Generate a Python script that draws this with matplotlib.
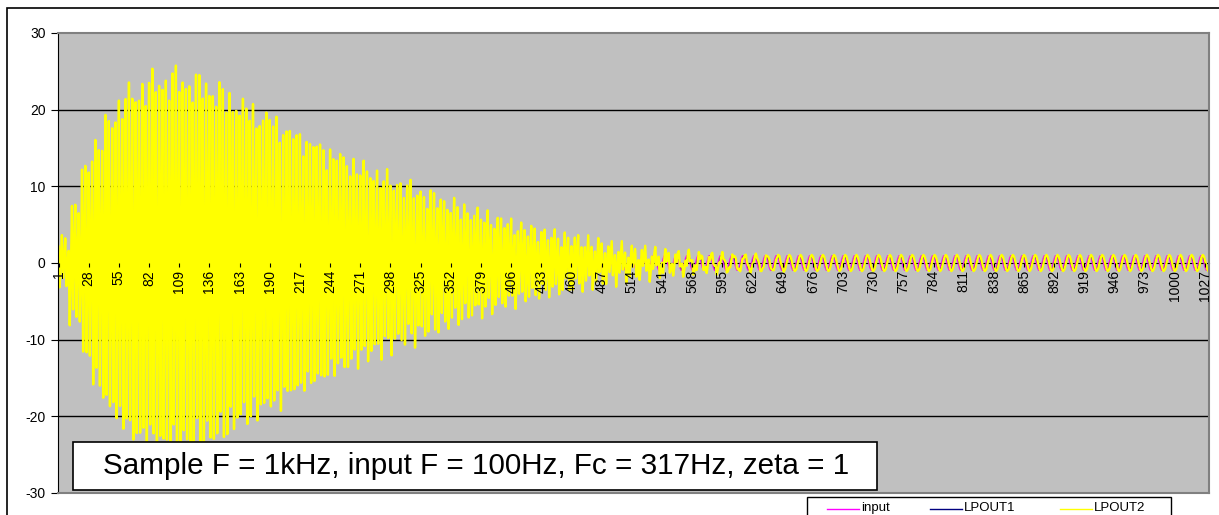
import matplotlib
matplotlib.use("Agg")
import matplotlib.pyplot as plt
from matplotlib.patches import Rectangle
from matplotlib.lines import Line2D
import numpy as np

plt.rcParams['font.family'] = ['Liberation Sans', 'DejaVu Sans']
plt.rcParams['axes.unicode_minus'] = False

# sample count and category labels (every 27th sample)
n_samples = 1030
tick_step = 27

# one 100 Hz period at 1 kHz sampling (10 samples)
input_cycle = [0.0, 0.588, 0.951, 0.951, 0.588, 0.0, -0.588, -0.951, -0.951, -0.588]
lpout1_cycle = [-0.56, 0.0, 0.56, 0.90, 0.90, 0.56, 0.0, -0.56, -0.90, -0.90]
lpout2_cycle = [-0.85, -0.32, 0.32, 0.85, 1.05, 0.85, 0.32, -0.32, -0.85, -1.05]

# ringing shape of LPOUT2 (normalised, roughly three samples per swing)
ring_pattern = [1.0, -0.95, 0.1, 0.93, -1.0, -0.15, 0.97, -0.9, 0.2, 0.88, -0.97,
                -0.1, 0.95, -0.92, 0.05, 0.9, -0.98, 0.15, 0.98, -0.88, -0.05]

# peak ringing amplitude of LPOUT2 for each 10-sample block
ring_peak = [3.0, 7.5, 12.5, 16.0, 19.0, 21.2, 22.7, 23.7, 24.3, 24.7,
             24.9, 24.6, 24.2, 23.8, 23.0, 22.0, 21.0, 20.3, 19.7, 18.8,
             17.9, 17.0, 16.3, 15.5, 14.7, 13.9, 13.2, 12.5, 11.8, 11.2,
             10.6, 10.0, 9.4, 8.8, 8.2, 7.6, 7.0, 6.5, 6.0, 5.6,
             5.1, 4.7, 4.3, 3.9, 3.6, 3.3, 3.0, 2.7, 2.4, 2.1,
             1.8, 1.6, 1.4, 1.2, 1.0, 0.8, 0.7, 0.6, 0.5, 0.4,
             0.3, 0.25, 0.2, 0.15, 0.1]

series_names = ['input', 'LPOUT1', 'LPOUT2']
series_colors = ['#FF00FF', '#000080', '#FFFF00']
series_widths = [0.9, 0.9, 1.7]

caption = "Sample F = 1kHz, input F = 100Hz, Fc = 317Hz, zeta = 1"

x = np.arange(1, n_samples + 1)
reps10 = n_samples // 10 + 1
reps_r = n_samples // len(ring_pattern) + 1
inp = np.tile(input_cycle, reps10)[:n_samples]
lp1 = np.tile(lpout1_cycle, reps10)[:n_samples]
peak = np.zeros(n_samples)
blk = np.repeat(ring_peak, 10)
peak[:len(blk)] = blk
lp2 = np.tile(lpout2_cycle, reps10)[:n_samples] + peak * np.tile(ring_pattern, reps_r)[:n_samples]

W, H = 1219, 515
fig = plt.figure(figsize=(W / 100, H / 100), dpi=100)
ax = fig.add_axes([58 / W, (H - 493) / H, (1209 - 58) / W, (493 - 33) / H])
ax.set_facecolor('#C0C0C0')

for y, name, col, lw in zip([inp, lp1, lp2], series_names, series_colors, series_widths):
    ax.plot(x, y, color=col, lw=lw, label=name, zorder=2)

ax.set_xlim(0.5, n_samples + 0.5)
ax.set_ylim(-30, 30)
for v in (-20, -10, 10, 20):
    ax.axhline(v, color='black', lw=1.0, zorder=1)

# x axis crosses at zero
ax.spines['bottom'].set_position(('data', 0))
ax.spines['bottom'].set_color('black')
ax.spines['bottom'].set_zorder(1.5)
ax.spines['left'].set_color('black')
for s in ('top', 'right'):
    ax.spines[s].set_color('#808080')
    ax.spines[s].set_linewidth(1.5)

ticks = list(range(1, n_samples + 1, tick_step))
ax.set_xticks(ticks)
ax.set_xticklabels([str(t) for t in ticks])
ax.set_yticks(range(-30, 31, 10))
ax.tick_params(axis='x', direction='out', length=3, pad=2, width=0.8,
               labelsize=10, labelrotation=90)
for lab in ax.get_xticklabels():
    lab.set_verticalalignment('top')
ax.tick_params(axis='y', direction='out', length=5, labelsize=10, pad=4, width=0.8)
# category labels sit on top of the traces
ax.xaxis.set_zorder(4)

# bottom edge of the plot area
ax.plot([0, 1], [0, 0], transform=ax.transAxes, color='#808080', lw=1.5, clip_on=False, zorder=4)

# caption box
fig.patches.append(Rectangle((73 / W, (H - 490) / H), (877 - 73) / W, 48 / H,
                             transform=fig.transFigure, facecolor='white',
                             edgecolor='black', lw=1.2, zorder=5))
fig.text(476 / W, (H - 466) / H, caption, ha='center', va='center', fontsize=21.3, zorder=6)

# chart frame
fig.patches.append(Rectangle((7 / W, -0.1), 1.2, (H - 8) / H + 0.1,
                             transform=fig.transFigure, facecolor='none',
                             edgecolor='black', lw=1.2, zorder=0))

# legend strip under the plot
fig.patches.append(Rectangle((807 / W, -0.1), (1171 - 807) / W, (H - 497) / H + 0.1,
                             transform=fig.transFigure, facecolor='white',
                             edgecolor='black', lw=1.0, zorder=5))
leg_x = [827, 930, 1060]
leg_y = (H - 509) / H
for x0, name, col in zip(leg_x, series_names, series_colors):
    fig.lines.append(Line2D([x0 / W, (x0 + 32) / W], [leg_y, leg_y], transform=fig.transFigure,
                            color=col, lw=1.0, zorder=6))
    fig.text((x0 + 34) / W, (H - 514) / H, name, ha='left', va='bottom', fontsize=9.5, zorder=6)

fig.savefig('out.png', dpi=100)
